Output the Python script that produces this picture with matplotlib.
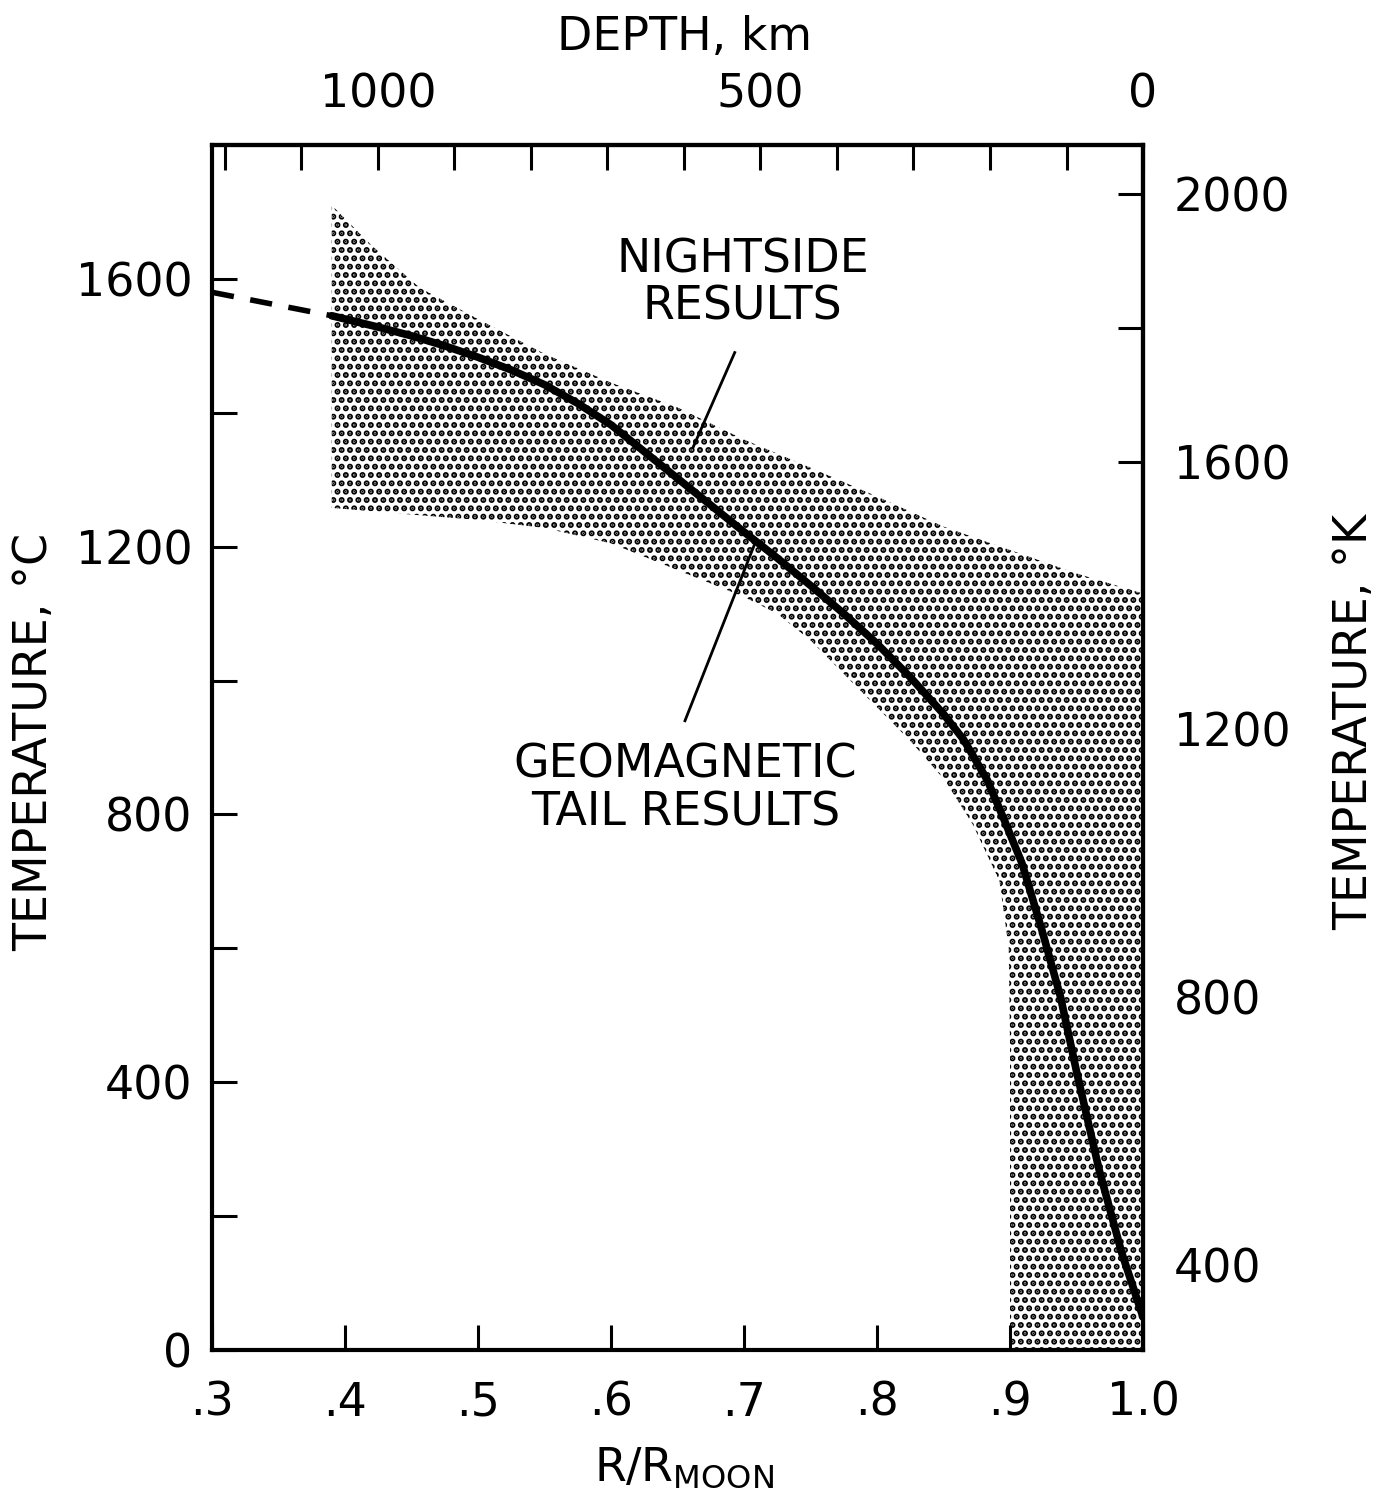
import numpy as np
import matplotlib.pyplot as plt

plt.rcParams['font.family'] = ['DejaVu Sans']
plt.rcParams['mathtext.default'] = 'regular'
plt.rcParams['hatch.linewidth'] = 3.0

R_MOON_KM = 1738.0

# geomagnetic tail temperature profile (deg C vs R/R_moon)
r_curve = [0.39, 0.425, 0.45, 0.475, 0.5, 0.525, 0.55, 0.575, 0.6, 0.625, 0.65, 0.675, 0.7, 0.725,
           0.75, 0.775, 0.8, 0.825, 0.85, 0.865, 0.883, 0.896, 0.909, 0.924, 0.938, 0.95, 0.967, 0.984, 1.0]
t_curve = [1545, 1528, 1515, 1500, 1483, 1464, 1442, 1414, 1382, 1342, 1302, 1262, 1222, 1183,
           1142, 1100, 1055, 1005, 950, 912, 851, 790, 727, 627, 527, 416, 269, 145, 49]

# extrapolated part toward the centre
r_dash = [0.3, 0.39]
t_dash = [1580, 1545]

# nightside results band
r_upper = [0.39, 0.42, 0.456, 0.5, 0.55, 0.6, 0.65, 0.7, 0.75, 0.8, 0.85, 0.9, 0.95, 1.0]
t_upper = [1710, 1650, 1587, 1540, 1488, 1445, 1408, 1360, 1318, 1275, 1230, 1195, 1160, 1130]
r_lower = [0.39, 0.45, 0.5, 0.55, 0.6, 0.65, 0.7, 0.725, 0.75, 0.8, 0.825, 0.851, 0.872, 0.892,
           0.899, 0.9, 0.9, 1.0]
t_lower = [1258, 1248, 1240, 1228, 1205, 1165, 1125, 1100, 1060, 960, 910, 851, 785, 701,
           601, 450, 0, 0]

x_ticks = [0.3, 0.4, 0.5, 0.6, 0.7, 0.8, 0.9, 1.0]
x_labels = ['.3', '.4', '.5', '.6', '.7', '.8', '.9', '1.0']
c_ticks = [0, 200, 400, 600, 800, 1000, 1200, 1400, 1600]
c_labels = ['0', '', '400', '', '800', '', '1200', '', '1600']
k_ticks = [400, 600, 800, 1000, 1200, 1400, 1600, 1800, 2000]
k_labels = ['400', '', '800', '', '1200', '', '1600', '', '2000']
d_ticks = [0, 100, 200, 300, 400, 500, 600, 700, 800, 900, 1000, 1100, 1200]
d_labels = ['0', '', '', '', '', '500', '', '', '', '', '1000', '', '']

FS = 33

fig = plt.figure(figsize=(13.84, 15.03), dpi=100)
ax = fig.add_axes([0.1532, 0.1018, 0.6727, 0.8017])

# stippled band
ax.fill(np.r_[r_upper, r_lower[::-1]], np.r_[t_upper, t_lower[::-1]],
        facecolor='white', edgecolor='black', hatch='..', linewidth=0, zorder=1)

ax.plot(r_curve, t_curve, color='black', lw=5.5, solid_capstyle='round', zorder=3)
ax.plot(r_dash, t_dash, color='black', lw=4, dashes=(4, 3), zorder=3)

# pointer lines
ax.plot([0.693, 0.6616], [1490, 1348], color='black', lw=2, zorder=3)
ax.plot([0.709, 0.6556], [1209, 940], color='black', lw=2, zorder=3)

ax.text(0.699, 1593, 'NIGHTSIDE\nRESULTS', ha='center', va='center',
        fontsize=FS, linespacing=1.05)
ax.text(0.656, 838, 'GEOMAGNETIC\nTAIL RESULTS', ha='center', va='center',
        fontsize=FS, linespacing=1.1)

ax.set_xlim(0.3, 1.0)
ax.set_ylim(0, 1800)
ax.set_xticks(x_ticks)
ax.set_xticklabels(x_labels)
ax.set_yticks(c_ticks)
ax.set_yticklabels(c_labels)
ax.tick_params(axis='x', direction='in', length=18, width=2.2, labelsize=FS, pad=22)
ax.tick_params(axis='y', direction='in', length=18, width=2.2, labelsize=FS, pad=14)
for s in ax.spines.values():
    s.set_linewidth(3)

ax.set_xlabel(r'R/R$_{MOON}$', fontsize=FS)
ax.xaxis.set_label_coords(0.507, -0.079)
ax.set_ylabel('TEMPERATURE, °C', fontsize=FS)
ax.yaxis.set_label_coords(-0.166, 0.505)

secx = ax.secondary_xaxis('top', functions=(lambda r: (1 - r) * R_MOON_KM,
                                             lambda d: 1 - d / R_MOON_KM))
secx.set_xticks(d_ticks)
secx.set_xticklabels(d_labels)
secx.tick_params(direction='in', length=18, width=2.2, labelsize=FS, pad=20)
secx.spines['top'].set_linewidth(3)
secx.set_xlabel('DEPTH, km', fontsize=FS)
secx.xaxis.set_label_coords(0.507, 1.079, transform=ax.transAxes)

secy = ax.secondary_yaxis('right', functions=(lambda c: c + 273, lambda k: k - 273))
secy.set_yticks(k_ticks)
secy.set_yticklabels(k_labels)
secy.tick_params(direction='in', length=18, width=2.2, labelsize=FS, pad=22)
secy.spines['right'].set_linewidth(3)
secy.set_ylabel('TEMPERATURE, °K', fontsize=FS)
secy.yaxis.set_label_coords(1.203, 0.521, transform=ax.transAxes)

fig.savefig('out.png', dpi=100)
